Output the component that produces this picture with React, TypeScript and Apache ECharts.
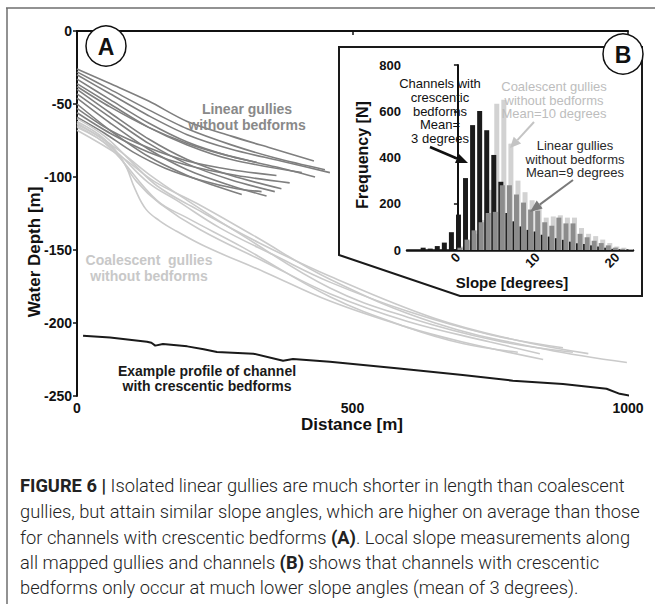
import React, { useEffect, useRef } from 'react';
import * as echarts from 'echarts';

// ---------- Panel A data: [distance m, depth m] ----------
const linearGullies: number[][][] = [
  [[0, -26], [60, -36], [130, -48], [200, -62], [280, -72], [350, -80], [430, -89]],
  [[0, -28], [60, -40], [130, -54], [200, -67], [280, -78], [360, -87], [450, -95]],
  [[0, -30], [60, -43], [130, -58], [200, -71], [280, -81], [370, -89], [459, -97]],
  [[0, -33], [60, -47], [130, -63], [200, -76], [280, -86], [360, -93], [432, -100]],
  [[0, -36], [60, -50], [130, -66], [200, -78], [280, -88], [408, -97]],
  [[0, -38], [60, -52], [130, -66], [200, -77], [260, -84], [326, -90]],
  [[0, -40], [60, -56], [130, -74], [200, -88], [280, -99], [371, -108]],
  [[0, -43], [60, -59], [130, -77], [200, -91], [280, -102], [359, -110]],
  [[0, -46], [60, -63], [130, -81], [200, -95], [280, -106], [344, -113]],
  [[0, -50], [60, -68], [130, -86], [200, -99], [250, -106], [299, -112]],
  [[0, -53], [60, -68], [130, -80], [200, -89], [280, -95], [362, -99]],
  [[0, -56], [60, -70], [130, -83], [200, -92], [290, -99], [386, -104]],
  [[0, -59], [50, -70], [102, -83], [160, -94], [223, -102], [290, -108], [335, -110]],
];

const coalescentGullies: number[][][] = [
  [[0, -62], [50, -74], [85, -90], [105, -108], [125, -122], [150, -130], [180, -137], [235, -148], [340, -165], [459, -185], [600, -203], [700, -213], [846, -225]],
  [[0, -64], [60, -78], [108, -103], [150, -118], [223, -136], [340, -158], [459, -180], [600, -199], [750, -213], [840, -221]],
  [[0, -66], [60, -79], [130, -104], [181, -116], [260, -135], [360, -154], [459, -172], [600, -192], [750, -208], [882, -217]],
  [[0, -60], [50, -72], [100, -90], [145, -106], [217, -122], [330, -145], [459, -168], [650, -197], [800, -212], [928, -221]],
  [[0, -68], [80, -86], [140, -103], [217, -118], [320, -140], [459, -170], [650, -200], [850, -218], [998, -227]],
  [[0, -63], [70, -80], [130, -98], [200, -116], [300, -140], [459, -176], [600, -196], [760, -212], [900, -220]],
  [[0, -65], [60, -80], [145, -116], [200, -128], [300, -148], [459, -182], [600, -203], [700, -214], [800, -220]],
];

const channelProfile: number[][] = [
  [11, -208.7], [60, -210], [127, -212.8], [135, -213.5], [142, -215.5], [156, -214.4], [200, -216],
  [230, -218], [254, -219.8], [320, -221], [374, -225.8], [392, -224.7], [459, -226.5], [580, -231],
  [700, -235.6], [791, -239.5], [882, -241.8], [961, -245], [985, -248.5], [1005, -249.8],
];

// ---------- Panel B data: histogram ----------
const slopeBins = [
  '-6.0', '-5.1', '-4.2', '-3.3', '-2.4', '-1.5', '-0.7', '0.2', '1.1', '2.0', '2.9', '3.8', '4.7', '5.5', '6.4', '7.3',
  '8.2', '9.1', '10.0', '10.9', '11.8', '12.7', '13.5', '14.4', '15.3', '16.2', '17.1', '18.0', '18.9', '19.8', '20.7', '21.6',
];
const channelFreq = [0, 0, 10, 6, 17, 32, 77, 153, 311, 540, 601, 518, 411, 295, 160, 124, 102, 87, 80, 66, 58, 51, 44, 36, 29, 26, 20, 15, 10, 5, 3, 0];
const linearFreq = [0, 0, 0, 0, 0, 0, 0, 10, 45, 85, 120, 160, 165, 280, 280, 240, 205, 175, 170, 120, 105, 140, 115, 115, 70, 55, 40, 30, 20, 10, 5, 0];
const coalescentFreq = [0, 0, 0, 0, 0, 0, 0, 15, 40, 70, 130, 260, 632, 650, 460, 300, 250, 215, 195, 140, 145, 150, 140, 140, 95, 70, 60, 45, 30, 15, 10, 3];

const depthTicks = { min: -250, max: 0, step: 50 };
const distanceTicks = { min: 0, max: 1000, step: 500 };
const freqTicks = { min: 0, max: 800, step: 200 };
const slopeTickValues = [0, 10, 20];

const FONT = 'Liberation Sans, Arial, sans-serif';
const CAP_FONT = 'Roboto, Liberation Sans, sans-serif';

function txt(text: string, x: number, y: number, o: any = {}) {
  return {
    type: 'text',
    x,
    y,
    rotation: o.rotation || 0,
    z: 30,
    style: {
      text,
      fill: o.fill || '#111',
      fontSize: o.fontSize || 14,
      fontWeight: o.fontWeight || 'bold',
      fontFamily: o.fontFamily || FONT,
      align: o.align || 'center',
      textAlign: o.align || 'center',
      verticalAlign: 'middle',
      textVerticalAlign: 'middle',
      lineHeight: o.lineHeight,
      rich: o.rich,
    },
  };
}

function arrow(x1: number, y1: number, x2: number, y2: number, bx: number, by: number, p1: number[], p2: number[], color: string, w: number) {
  return [
    { type: 'line', z: 20, shape: { x1, y1, x2: bx, y2: by }, style: { stroke: color, lineWidth: w } },
    { type: 'polygon', z: 20, shape: { points: [[x2, y2], p1, p2] }, style: { fill: color } },
  ];
}

export default function App() {
  const ref = useRef<HTMLDivElement>(null);
  useEffect(() => {
    document.body.style.margin = '0';
    const chart = echarts.init(ref.current!, undefined, { renderer: 'svg' });
    const lineSeries: any[] = [];
    linearGullies.forEach((d) =>
      lineSeries.push({
        type: 'line', xAxisIndex: 0, yAxisIndex: 0, data: d, showSymbol: false, smooth: 0.3, silent: true,
        lineStyle: { color: '#7f7f7f', width: 1.6 },
      })
    );
    coalescentGullies.forEach((d) =>
      lineSeries.push({
        type: 'line', xAxisIndex: 0, yAxisIndex: 0, data: d, showSymbol: false, smooth: 0.4, silent: true,
        lineStyle: { color: '#cacaca', width: 1.6 },
      })
    );
    lineSeries.push({
      type: 'line', xAxisIndex: 0, yAxisIndex: 0, data: channelProfile, showSymbol: false, silent: true, clip: false,
      lineStyle: { color: '#1a1a1a', width: 2 },
    });

    const barCommon = { type: 'bar', xAxisIndex: 1, yAxisIndex: 1, barWidth: 5, barGap: '-70%', silent: true };
    const bars = [
      { ...barCommon, name: 'channels', data: channelFreq, z: 4, itemStyle: { color: '#1b1b1b' } },
      { ...barCommon, name: 'linear', data: linearFreq, z: 5, itemStyle: { color: '#8c8c8c' } },
      { ...barCommon, name: 'coalescent', data: coalescentFreq, z: 3, itemStyle: { color: '#d2d2d2' } },
    ];

    const CAP_SIZE = 18.3;
    const capRich = { b: { fontWeight: 'bold', fontSize: CAP_SIZE, fontFamily: CAP_FONT, fill: '#222' } };
    const capLine = (t: string, y: number) =>
      txt(t, 20, y, { align: 'left', fontSize: CAP_SIZE, fontWeight: 300, fontFamily: CAP_FONT, fill: '#222', rich: capRich });

    const graphic: any[] = [
      // outer frame
      { type: 'line', z: 20, shape: { x1: 6, y1: 8, x2: 655, y2: 8 }, style: { stroke: '#6e6e6e', lineWidth: 1.5 } },
      { type: 'line', z: 20, shape: { x1: 7, y1: 8, x2: 7, y2: 604 }, style: { stroke: '#6e6e6e', lineWidth: 1.5 } },
      // inset frame
      { type: 'polygon', z: 1, shape: { points: [[339, 47], [642, 47], [642, 296], [460, 296], [339, 255]] }, style: { fill: 'none', stroke: '#1a1a1a', lineWidth: 2 } },
      // circles
      { type: 'circle', z: 21, shape: { cx: 106, cy: 46, r: 20 }, style: { fill: '#fff', stroke: '#111', lineWidth: 1.5 } },
      { type: 'circle', z: 21, shape: { cx: 623, cy: 54, r: 20 }, style: { fill: '#fff', stroke: '#111', lineWidth: 1.5 } },
      txt('A', 106, 47, { fontSize: 23 }),
      txt('B', 623, 55, { fontSize: 23 }),
      // axis titles
      txt('Water Depth [m]', 34, 252, { fontSize: 17, rotation: Math.PI / 2 }),
      txt('Distance [m]', 352, 424, { fontSize: 17 }),
      txt('Frequency [N]', 362, 155, { fontSize: 16, rotation: Math.PI / 2 }),
      txt('Slope [degrees]', 512, 282, { fontSize: 15 }),
      // panel A labels
      txt('Linear gullies\nwithout bedforms', 247, 117, { fill: '#898989', fontSize: 14, lineHeight: 16 }),
      txt('Coalescent  gullies\nwithout bedforms', 149, 268, { fill: '#c8c8c8', fontSize: 14, lineHeight: 16 }),
      txt('Example profile of channel\nwith crescentic bedforms', 207, 378, { fill: '#1a1a1a', fontSize: 14, lineHeight: 15 }),
      // panel B labels
      txt('Channels with\ncrescentic\nbedforms\nMean=\n3 degrees', 440, 111, { fontSize: 13, fontWeight: 'normal', lineHeight: 13.8, fill: '#111' }),
      txt('Coalescent gullies\nwithout bedforms\nMean=10 degrees', 554, 100, { fontSize: 13, fontWeight: 'normal', lineHeight: 13.8, fill: '#bdbdbd' }),
      txt('Linear gullies\nwithout bedforms\nMean=9 degrees', 575, 159, { fontSize: 13, fontWeight: 'normal', lineHeight: 13.8, fill: '#2a2a2a' }),
      ...arrow(430, 147, 468, 163, 457, 158.5, [455, 163.1], [459, 153.9], '#111', 2.5),
      ...arrow(534, 122, 510, 148, 517.4, 140.1, [521.1, 143.5], [513.7, 136.8], '#c4c4c4', 2),
      ...arrow(573, 180, 530, 212, 539.7, 204.6, [542.6, 208.6], [536.7, 200.6], '#7a7a7a', 2),
      // caption
      capLine('{b|FIGURE 6 |} Isolated linear gullies are much shorter in length than coalescent', 485),
      capLine('gullies, but attain similar slope angles, which are higher on average than those', 511),
      capLine('for channels with crescentic bedforms {b|(A)}. Local slope measurements along', 537),
      capLine('all mapped gullies and channels {b|(B)} shows that channels with crescentic', 562),
      capLine('bedforms only occur at much lower slope angles (mean of 3 degrees).', 587),
    ];

    const axisLbl = { color: '#111', fontWeight: 'bold', fontFamily: FONT, formatter: (v: number) => String(v) };
    chart.setOption({
      animation: false,
      backgroundColor: '#fff',
      grid: [
        { left: 77, right: 27, top: 31, bottom: 208 },
        { left: 407, right: 22, top: 65, bottom: 354 },
      ],
      xAxis: [
        {
          gridIndex: 0, type: 'value', min: distanceTicks.min, max: distanceTicks.max, interval: distanceTicks.step,
          axisLine: { show: true, lineStyle: { color: '#111', width: 2 } },
          axisTick: { show: true, length: 4, lineStyle: { color: '#111', width: 1.5 } },
          axisLabel: { ...axisLbl, fontSize: 14, margin: 5 },
          splitLine: { show: false },
        },
        { gridIndex: 1, type: 'category', data: slopeBins, position: 'top', show: false },
        {
          gridIndex: 1, type: 'value', min: -6.4, max: 22, position: 'bottom',
          axisLine: { show: true, lineStyle: { color: '#111', width: 2.5 } },
          axisTick: { show: false },
          axisLabel: { ...axisLbl, fontSize: 13, rotate: 45, margin: 5, customValues: slopeTickValues },
          splitLine: { show: false },
        },
      ],
      yAxis: [
        {
          gridIndex: 0, type: 'value', min: depthTicks.min, max: depthTicks.max, interval: depthTicks.step,
          axisLine: { show: true, lineStyle: { color: '#111', width: 2 } },
          axisTick: { show: true, length: 4, lineStyle: { color: '#111', width: 1.5 } },
          axisLabel: { ...axisLbl, fontSize: 14, margin: 5 },
          splitLine: { show: false },
        },
        {
          gridIndex: 1, type: 'value', min: freqTicks.min, max: freqTicks.max, interval: freqTicks.step,
          axisLine: { show: true, lineStyle: { color: '#111', width: 2 } },
          axisTick: { show: true, length: 4, lineStyle: { color: '#111', width: 1.5 } },
          axisLabel: { ...axisLbl, fontSize: 13, margin: 6 },
          splitLine: { show: false },
        },
      ],
      series: [...lineSeries, ...bars],
      graphic,
    });
    return () => chart.dispose();
  }, []);
  return <div ref={ref} style={{ width: 655, height: 604 }} />;
}
